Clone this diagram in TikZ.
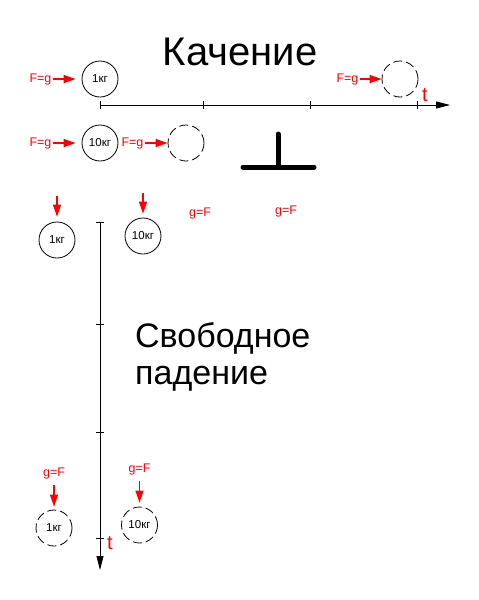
\documentclass[tikz,border=0pt]{standalone}
\usepackage{fontspec}
\setmainfont{Liberation Sans}
\usetikzlibrary{arrows.meta,positioning}

\begin{document}
\begin{tikzpicture}[x=1pt,y=-1pt,
	ball/.style={draw,circle,minimum size=36pt,inner sep=0pt,line width=0.8pt,font=\fontsize{11.5}{13}\selectfont},
	ghost/.style={ball,dash pattern=on 9pt off 4pt},
	force/.style={red,line width=1.2pt,-{Triangle[length=12pt,width=8pt]}},
	lbl/.style={red,inner sep=1pt,font=\fontsize{12.5}{14}\selectfont},
	tlbl/.style={red,inner sep=0pt,font=\fontsize{20}{22}\selectfont},
	axis/.style={line width=0.8pt,-{Triangle[length=14pt,width=7pt]}}]
	\useasboundingbox (0,0) rectangle (479,600);
	\node[font=\fontsize{40}{48}\selectfont,anchor=base] (h_1) at (240,65) {Качение};
	\node[font=\fontsize{34}{37}\selectfont,align=left,anchor=base west,inner sep=0pt] (h_2) at (135,384) {Свободное\\падение};
	\coordinate (o_h) at (100,105);
	\coordinate (e_h) at (450,105);
	\draw[axis] (o_h) -- (e_h);
	\foreach \x in {100,203,310,417}
		\draw[line width=0.8pt] (\x,101) -- (\x,109);
	\node[tlbl] (t_h) at (425,95) {t};
	\node[ball] (b_1) at (100,79) {1кг};
	\node[ball] (b_2) at (100,143) {10кг};
	\node[ghost] (d_1) at (400,79) {};
	\node[ghost] (d_2) at (186,143) {};
	\node[lbl,left=29pt of b_1] (f_1) {F=g};
	\node[lbl,left=29pt of b_2] (f_2) {F=g};
	\node[lbl,left=23pt of d_2] (f_3) {F=g};
	\node[lbl,left=22pt of d_1] (f_4) {F=g};
	\draw[force,shorten >=6pt] (f_1) -- (b_1);
	\draw[force,shorten >=6pt] (f_2) -- (b_2);
	\draw[force] (f_3) -- (d_2);
	\draw[force] (f_4) -- (d_1);
	\draw[line width=5pt,line cap=round] (243,167) -- (314,167) (278,134) -- (278,167);
	\coordinate (o_v) at (100,222);
	\coordinate (e_v) at (100,570);
	\draw[axis] (o_v) -- (e_v);
	\foreach \y in {222,324,432,538}
		\draw[line width=0.8pt] (96,\y) -- (104,\y);
	\node[tlbl] (t_v) at (110,543) {t};
	\node[ball] (v_1) at (57,240) {1кг};
	\node[ball] (v_2) at (143,236) {10кг};
	\coordinate[above=26pt of v_1] (s_1);
	\coordinate[above=25pt of v_2] (s_2);
	\draw[force,shorten >=5pt] (s_1) -- (v_1);
	\draw[force,shorten >=4pt] (s_2) -- (v_2);
	\node[lbl] (n_1) at (200,213) {g=F};
	\node[lbl] (n_2) at (286,211) {g=F};
	\node[ghost] (w_1) at (54,528) {1кг};
	\node[ghost] (w_2) at (139.5,525) {10кг};
	\node[lbl,above=29pt of w_1] (g_1) {g=F};
	\node[lbl,above=30pt of w_2] (g_2) {g=F};
	\draw[force,shorten <=4pt,shorten >=3pt] (g_1) -- (w_1);
	\draw[force,shorten <=4pt,shorten >=4pt] (g_2) -- (w_2);
\end{tikzpicture}
\end{document}
